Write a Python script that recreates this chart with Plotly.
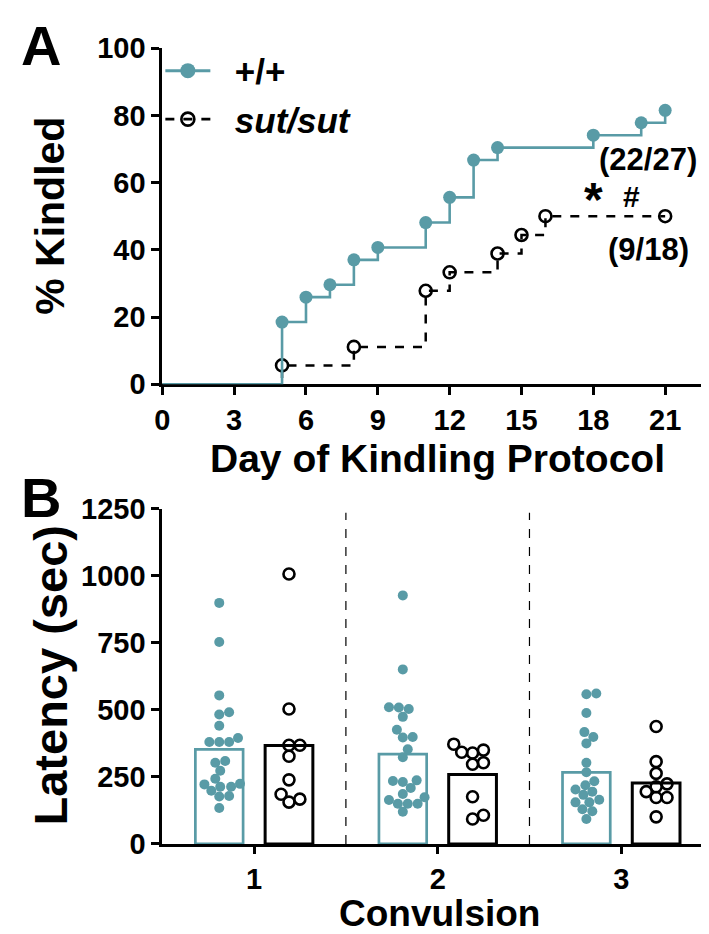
import plotly.graph_objects as go

W, H = 709, 934
TEAL = "#599ba6"
FONT = "Liberation Sans, Arial, Helvetica, sans-serif"

# ---------- Panel A: cumulative % kindled ----------
wt_days = [5, 6, 7, 8, 9, 11, 12, 13, 14, 18, 20, 21]
wt_pct = [18.5, 25.9, 29.6, 37.0, 40.7, 48.1, 55.6, 66.7, 70.4, 74.1, 77.8, 81.5]
sut_days = [5, 8, 11, 12, 14, 15, 16, 21]
sut_pct = [5.6, 11.1, 27.8, 33.3, 38.9, 44.4, 50.0, 50.0]
x_ticks_a = [0, 3, 6, 9, 12, 15, 18, 21]
y_ticks_a = [0, 20, 40, 60, 80, 100]

# ---------- Panel B: latency per convulsion ----------
convulsions = [1, 2, 3]
wt_lat = [
    [899, 753, 554, 483, 491, 441, 395, 380, 380, 380, 309, 303, 273, 243, 224,
     222, 213, 198, 213, 179, 177, 134],
    [927, 651, 503, 510, 509, 474, 426, 397, 399, 353, 323, 237, 231, 235, 209,
     186, 164, 150, 150, 174, 150, 120],
    [558, 561, 488, 399, 417, 375, 303, 267, 234, 219, 203, 195, 183, 155, 155,
     165, 129, 122, 93],
]
sut_lat = [
    [1007, 503, 368, 368, 327, 239, 185, 167, 156],
    [372, 350, 342, 339, 303, 297, 176, 107, 93],
    [438, 307, 263, 224, 213, 195, 173, 173, 101],
]
wt_bar = [353, 335, 267]
sut_bar = [367, 259, 227]
y_ticks_b = [0, 250, 500, 750, 1000, 1250]


def px(x):
    return x / W


def py(y):
    return 1 - y / H


# axis frames in pixels
A_LEFT, A_RIGHT, A_TOP, A_BOT = 148, 705, 25, 373
B_LEFT, B_RIGHT, B_TOP, B_BOT = 148, 705, 502, 849
A_XMAX = 23.0
B_XR = [0.5, 3.5]
B_YMAX = 1250


def swarm(values, diam, ppu_y, ppu_x):
    """simple beeswarm: returns horizontal offsets in data units"""
    order = sorted(range(len(values)), key=lambda i: values[i])
    placed = []
    offs = [0.0] * len(values)
    for i in order:
        y = values[i] * ppu_y
        k = 0
        found = None
        while found is None:
            cands = [0] if k == 0 else [k, -k]
            for c in cands:
                if all((c - a) ** 2 + (y - b) ** 2 >= diam ** 2 for a, b in placed):
                    found = c
                    break
            k += 1
        placed.append((found, y))
        offs[i] = found / ppu_x
    return offs


fig = go.Figure()

# step curves (sut drawn first so +/+ sits on top)
fig.add_trace(go.Scatter(
    x=[0] + sut_days, y=[0] + sut_pct, mode="lines", line_shape="hv",
    line=dict(color="black", width=2.5, dash="dash"), showlegend=False,
    xaxis="x", yaxis="y", cliponaxis=False, hoverinfo="skip"))
fig.add_trace(go.Scatter(
    x=sut_days, y=sut_pct, mode="markers",
    marker=dict(symbol="circle-open", size=12, color="black", line=dict(width=2.6)),
    showlegend=False, xaxis="x", yaxis="y", cliponaxis=False))
fig.add_trace(go.Scatter(
    x=[0] + wt_days, y=[0] + wt_pct, mode="lines", line_shape="hv",
    line=dict(color=TEAL, width=2.6), showlegend=False,
    xaxis="x", yaxis="y", cliponaxis=False, hoverinfo="skip"))
fig.add_trace(go.Scatter(
    x=wt_days, y=wt_pct, mode="markers",
    marker=dict(symbol="circle", size=13, color=TEAL),
    showlegend=False, xaxis="x", yaxis="y", cliponaxis=False))

# legend-only entries
NB = "\u00a0\u00a0"
fig.add_trace(go.Scatter(
    x=[None], y=[None], mode="lines+markers", name=NB + "+/+", legendrank=1,
    line=dict(color=TEAL, width=3), marker=dict(size=15, color=TEAL),
    xaxis="x", yaxis="y"))
fig.add_trace(go.Scatter(
    x=[None], y=[None], mode="lines+markers", name=NB + "<i>sut/sut</i>", legendrank=2,
    line=dict(color="black", width=2.6, dash="dash"),
    marker=dict(symbol="circle-open", size=13, color="black", line=dict(width=2.6)),
    xaxis="x", yaxis="y"))

# panel B bars
OFF, BW = 0.19, 0.26
fig.add_trace(go.Bar(
    x=[c - OFF for c in convulsions], y=wt_bar, width=BW,
    marker=dict(color="white", line=dict(color=TEAL, width=2.7)),
    showlegend=False, xaxis="x2", yaxis="y2"))
fig.add_trace(go.Bar(
    x=[c + OFF for c in convulsions], y=sut_bar, width=BW,
    marker=dict(color="white", line=dict(color="black", width=3)),
    showlegend=False, xaxis="x2", yaxis="y2"))

ppu_x = (B_RIGHT - B_LEFT) / (B_XR[1] - B_XR[0])
ppu_y = (B_BOT - B_TOP) / B_YMAX
for c, vals in zip(convulsions, wt_lat):
    offs = swarm(vals, 9.5, ppu_y, ppu_x)
    fig.add_trace(go.Scatter(
        x=[c - OFF + o for o in offs], y=vals, mode="markers",
        marker=dict(size=10, color=TEAL), showlegend=False,
        xaxis="x2", yaxis="y2", cliponaxis=False))
for c, vals in zip(convulsions, sut_lat):
    offs = swarm(vals, 11, ppu_y, ppu_x)
    fig.add_trace(go.Scatter(
        x=[c + OFF + o for o in offs], y=vals, mode="markers",
        marker=dict(symbol="circle-open", size=11, color="black", line=dict(width=2.6)),
        showlegend=False, xaxis="x2", yaxis="y2", cliponaxis=False))

# dashed separators
for xs in [1.5, 2.5]:
    fig.add_shape(type="line", xref="x2", yref="y2", x0=xs, x1=xs, y0=0, y1=1235,
                  line=dict(color="black", width=1.2, dash="dash"))

tickfont = dict(family=FONT, size=29, color="black", weight="bold")
axis_common = dict(showline=True, linecolor="black", linewidth=3, ticks="outside",
                   tickwidth=3, tickcolor="black", showgrid=False,
                   zeroline=False, tickfont=tickfont, layer="below traces")

fig.update_layout(
    width=W, height=H, margin=dict(l=0, r=0, t=0, b=0),
    paper_bgcolor="white", plot_bgcolor="white", barmode="overlay",
    xaxis=dict(domain=[px(A_LEFT), px(A_RIGHT)], range=[0, A_XMAX], anchor="y",
               tickvals=x_ticks_a, ticklen=8, **axis_common),
    yaxis=dict(domain=[py(A_BOT), py(A_TOP)], range=[0, 100], anchor="x",
               tickvals=y_ticks_a, ticklen=8, **axis_common),
    xaxis2=dict(domain=[px(B_LEFT), px(B_RIGHT)], range=B_XR, anchor="y2",
                tickvals=convulsions, ticklen=7, **axis_common),
    yaxis2=dict(domain=[py(B_BOT), py(B_TOP)], range=[0, B_YMAX], anchor="x2",
                tickvals=y_ticks_b, ticklen=8, **axis_common),
    legend=dict(x=px(146), y=py(18), xanchor="left", yanchor="top",
                bgcolor="rgba(0,0,0,0)", itemwidth=45, tracegroupgap=0,
                font=dict(family=FONT, size=35, color="black", weight="bold")),
    showlegend=True,
)

notes = [
    ("A", 25, 22, 0, 56),
    ("B", 25, 490, 0, 56),
    ("% Kindled", 35, 199, -90, 41),
    ("Day of Kindling Protocol", 426, 450, 0, 39),
    ("Latency (sec)", 35, 675, -90, 47),
    ("Convulsion", 428, 921, 0, 37),
]
for text, x, y, ang, size in notes:
    fig.add_annotation(text=text, x=px(x), y=py(y), xref="paper", yref="paper",
                       showarrow=False, textangle=ang, xanchor="center", yanchor="middle",
                       font=dict(family=FONT, size=size, color="black", weight="bold"))

# group counts and significance marks
data_notes = [
    ("(22/27)", 20.3, 67, 31),
    ("(9/18)", 20.3, 40, 31),
    ("*", 18.0, 55, 48),
    ("#", 19.6, 56, 30),
]
for text, x, y, size in data_notes:
    fig.add_annotation(text=text, x=x, y=y, xref="x", yref="y", showarrow=False,
                       font=dict(family=FONT, size=size, color="black", weight="bold"))

fig.write_html("out.html")
